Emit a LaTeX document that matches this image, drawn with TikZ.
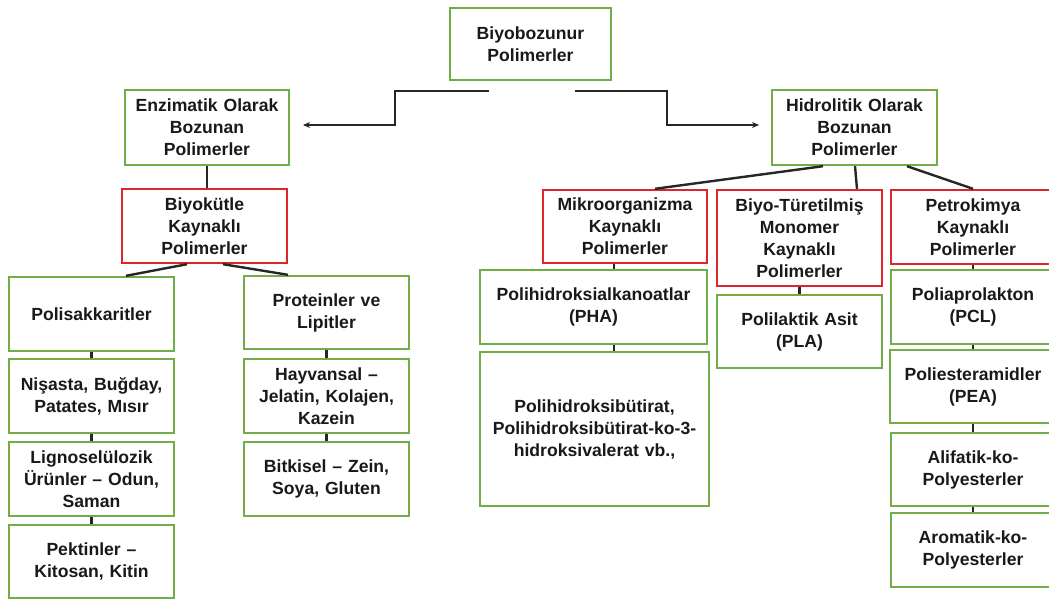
\documentclass[tikz,border=0pt]{standalone}
\usepackage{fontspec}
\setmainfont{Liberation Sans}
\usetikzlibrary{arrows.meta}
\definecolor{boxgreen}{RGB}{112,173,71}
\definecolor{boxred}{RGB}{220,38,44}
\definecolor{txt}{RGB}{25,25,25}
\begin{document}
\begin{tikzpicture}[x=1pt,y=-1pt,
  base/.style={draw, line width=2.4pt, rectangle, inner sep=0pt, align=center, text=txt,
    font=\fontsize{17.6}{22}\selectfont\bfseries},
  gbox/.style={base, draw=boxgreen},
  rbox/.style={base, draw=boxred},
  conn/.style={draw=black!85, line width=2.4pt},
  arr/.style={conn, -{Stealth[length=7pt,width=6pt]}}]
\useasboundingbox (0,0) rectangle (1049,599);
% boxes
\node[gbox, minimum width=161, minimum height=72, text width=156] (top) at (530.5,44) {Biyobozunur\\Polimerler};
\node[gbox, minimum width=164, minimum height=75, text width=160] (enz) at (207,127.5) {Enzimatik Olarak\\Bozunan\\Polimerler};
\node[gbox, minimum width=165, minimum height=75, text width=160] (hid) at (854.5,127.5) {Hidrolitik Olarak\\Bozunan\\Polimerler};
\node[rbox, minimum width=165, minimum height=74, text width=160] (bio) at (204.5,226) {Biyokütle\\Kaynaklı\\Polimerler};
\node[gbox, minimum width=165, minimum height=74, text width=160] (poli) at (91.5,314) {Polisakkaritler};
\node[gbox, minimum width=165, minimum height=74, text width=162] (nis) at (91.5,396) {Nişasta, Buğday,\\Patates, Mısır};
\node[gbox, minimum width=165, minimum height=74, text width=162] (lig) at (91.5,479) {Lignoselülozik\\Ürünler -- Odun,\\Saman};
\node[gbox, minimum width=165, minimum height=73, text width=162] (pek) at (91.5,561.5) {Pektinler --\\Kitosan, Kitin};
\node[gbox, minimum width=165, minimum height=73, text width=162] (pro) at (326.5,312.5) {Proteinler ve\\Lipitler};
\node[gbox, minimum width=165, minimum height=74, text width=164] (hay) at (326.5,396) {Hayvansal --\\Jelatin, Kolajen,\\Kazein};
\node[gbox, minimum width=165, minimum height=74, text width=162] (bit) at (326.5,479) {Bitkisel -- Zein,\\Soya, Gluten};
\node[rbox, minimum width=164, minimum height=73, text width=164] (mik) at (625,226.5) {Mikroorganizma\\Kaynaklı\\Polimerler};
\node[rbox, minimum width=165, minimum height=96, text width=164] (biyo) at (799.5,238) {Biyo-Türetilmiş\\Monomer\\Kaynaklı\\Polimerler};
\node[rbox, minimum width=164, minimum height=74, text width=164] (pet) at (973,227) {Petrokimya\\Kaynaklı\\Polimerler};
\node[gbox, minimum width=227, minimum height=74, text width=224] (pha) at (593.5,307) {Polihidroksialkanoatlar\\(PHA)};
\node[gbox, minimum width=229, minimum height=154, text width=226] (phb) at (594.5,429) {Polihidroksibütirat,\\Polihidroksibütirat-ko-3-\\hidroksivalerat vb.,};
\node[gbox, minimum width=165, minimum height=73, text width=164] (pla) at (799.5,331.5) {Polilaktik Asit\\(PLA)};
\node[gbox, minimum width=164, minimum height=74, text width=164] (pcl) at (973,307) {Poliaprolakton\\(PCL)};
\node[gbox, minimum width=164, minimum height=73, text width=166] (pea) at (973,386.5) {Poliesteramidler\\(PEA)};
\node[gbox, minimum width=164, minimum height=73, text width=164] (ali) at (973,469.5) {Alifatik-ko-\\Polyesterler};
\node[gbox, minimum width=164, minimum height=74, text width=164] (aro) at (973,550) {Aromatik-ko-\\Polyesterler};
% top arrows
\coordinate (la) at (489,91);
\coordinate (lb) at (395,91);
\coordinate (lc) at (395,125);
\coordinate (ld) at (303,125);
\coordinate (ra) at (575,91);
\coordinate (rb) at (667,91);
\coordinate (rc) at (667,125);
\coordinate (rd) at (759,125);
\draw[arr] (la) -- (lb) -- (lc) -- (ld);
\draw[arr] (ra) -- (rb) -- (rc) -- (rd);
% connectors
\draw[conn] (enz.south) -- (enz.south |- bio.north);
\draw[conn] ([xshift=-17.5pt]bio.south) -- ([xshift=34.5pt]poli.north);
\draw[conn] ([xshift=18.5pt]bio.south) -- ([xshift=-38.5pt]pro.north);
\draw[conn] (poli.south) -- (nis.north);
\draw[conn] (nis.south) -- (lig.north);
\draw[conn] (lig.south) -- (pek.north);
\draw[conn] (pro.south) -- (hay.north);
\draw[conn] (hay.south) -- (bit.north);
\draw[conn] ([xshift=-31.5pt]hid.south) -- ([xshift=30pt]mik.north);
\draw[conn] ([xshift=0.5pt]hid.south) -- ([xshift=57.5pt]biyo.north);
\draw[conn] ([xshift=52.5pt]hid.south) -- (pet.north);
\draw[conn] ([xshift=-11pt]mik.south) -- ([xshift=20.5pt]pha.north);
\draw[conn] ([xshift=20.5pt]pha.south) -- ([xshift=19.5pt]phb.north);
\draw[conn] (biyo.south) -- (pla.north);
\draw[conn] (pet.south) -- (pcl.north);
\draw[conn] (pcl.south) -- (pea.north);
\draw[conn] (pea.south) -- (ali.north);
\draw[conn] (ali.south) -- (aro.north);
\end{tikzpicture}
\end{document}
